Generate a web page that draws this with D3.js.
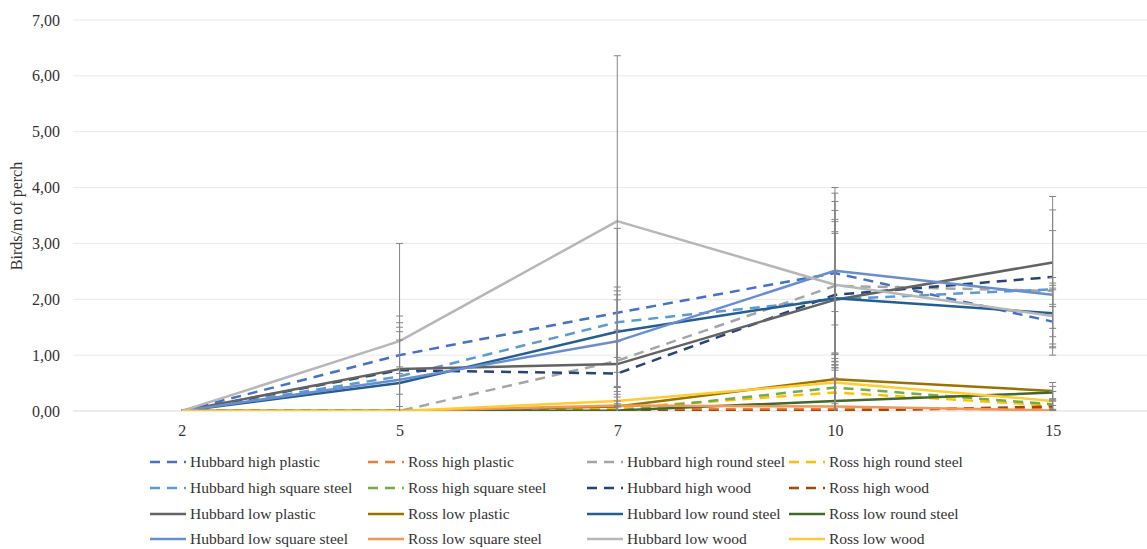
<!DOCTYPE html>
<html>
<head>
<meta charset="utf-8">
<script src="https://cdn.jsdelivr.net/npm/d3@7/dist/d3.min.js"></script>
<style>
  html, body { margin: 0; padding: 0; background: #fff; }
  svg { display: block; }
  svg text { fill: #333; }
</style>
</head>
<body>
<svg id="chart" width="1147" height="549"></svg>
<script>
// ---- data ----
const categories = ["2", "5", "7", "10", "15"];
const yTicks = [0, 1, 2, 3, 4, 5, 6, 7];
const yTitle = "Birds/m of perch";

const seriesNames = [
  "Hubbard high plastic", "Ross high plastic", "Hubbard high round steel", "Ross high round steel",
  "Hubbard high square steel", "Ross high square steel", "Hubbard high wood", "Ross high wood",
  "Hubbard low plastic", "Ross low plastic", "Hubbard low round steel", "Ross low round steel",
  "Hubbard low square steel", "Ross low square steel", "Hubbard low wood", "Ross low wood"
];
const seriesDashed = [true, true, true, true, true, true, true, true,
  false, false, false, false, false, false, false, false];
const seriesColors = [
  "#4472C4", "#ED7D31", "#A5A5A5", "#FFC000",
  "#5B9BD5", "#70AD47", "#264478", "#9E480E",
  "#636363", "#997300", "#255E91", "#43682B",
  "#698ED0", "#F1975A", "#B7B7B7", "#FFCD33"
];

const hubbardHighPlastic      = [0, 1.00, 1.76, 2.47, 1.60];
const rossHighPlastic         = [0, 0, 0.03, 0.03, 0.04];
const hubbardHighRoundSteel   = [0, 0, 0.90, 2.24, 2.15];
const rossHighRoundSteel      = [0, 0, 0.05, 0.33, 0.10];
const hubbardHighSquareSteel  = [0, 0.62, 1.59, 2.00, 2.18];
const rossHighSquareSteel     = [0, 0, 0, 0.42, 0.12];
const hubbardHighWood         = [0, 0.73, 0.67, 2.08, 2.40];
const rossHighWood            = [0, 0, 0, 0, 0.08];
const hubbardLowPlastic       = [0, 0.75, 0.84, 1.99, 2.66];
const rossLowPlastic          = [0, 0, 0.08, 0.57, 0.36];
const hubbardLowRoundSteel    = [0, 0.50, 1.42, 2.02, 1.75];
const rossLowRoundSteel       = [0, 0, 0.01, 0.18, 0.33];
const hubbardLowSquareSteel   = [0, 0.56, 1.25, 2.51, 2.08];
const rossLowSquareSteel      = [0, 0, 0.10, 0.08, 0.01];
const hubbardLowWood          = [0, 1.25, 3.40, 2.26, 1.70];
const rossLowWood             = [0, 0, 0.18, 0.51, 0.18];

// standard deviations (error bars)
const sdHubbardHighPlastic     = [0, 0.70, 1.51, 1.43, 0.60];
const sdRossHighPlastic        = [0, 0, 0.05, 0.10, 0.06];
const sdHubbardHighRoundSteel  = [0, 0, 0.55, 1.35, 0.24];
const sdRossHighRoundSteel     = [0, 0, 0.08, 0.61, 0.08];
const sdHubbardHighSquareSteel = [0, 0.65, 0.63, 1.18, 1.05];
const sdRossHighSquareSteel    = [0, 0, 0, 0.59, 0.23];
const sdHubbardHighWood        = [0, 0.06, 0.57, 1.35, 1.20];
const sdRossHighWood           = [0, 0, 0, 0, 0.10];
const sdHubbardLowPlastic      = [0, 0.67, 1.15, 1.40, 1.18];
const sdRossLowPlastic         = [0, 0, 0.10, 1.21, 0.15];
const sdHubbardLowRoundSteel   = [0, 1.00, 0.73, 1.19, 0.42];
const sdRossLowRoundSteel      = [0, 0, 0.02, 0.70, 0.11];
const sdHubbardLowSquareSteel  = [0, 1.02, 0.83, 1.49, 0.21];
const sdRossLowSquareSteel     = [0, 0, 0.20, 0.70, 0.02];
const sdHubbardLowWood         = [0, 1.75, 2.96, 1.49, 0.55];
const sdRossLowWood            = [0, 0, 0.24, 1.03, 0.17];

const seriesValues = [
  hubbardHighPlastic, rossHighPlastic, hubbardHighRoundSteel, rossHighRoundSteel,
  hubbardHighSquareSteel, rossHighSquareSteel, hubbardHighWood, rossHighWood,
  hubbardLowPlastic, rossLowPlastic, hubbardLowRoundSteel, rossLowRoundSteel,
  hubbardLowSquareSteel, rossLowSquareSteel, hubbardLowWood, rossLowWood
];
const seriesSD = [
  sdHubbardHighPlastic, sdRossHighPlastic, sdHubbardHighRoundSteel, sdRossHighRoundSteel,
  sdHubbardHighSquareSteel, sdRossHighSquareSteel, sdHubbardHighWood, sdRossHighWood,
  sdHubbardLowPlastic, sdRossLowPlastic, sdHubbardLowRoundSteel, sdRossLowRoundSteel,
  sdHubbardLowSquareSteel, sdRossLowSquareSteel, sdHubbardLowWood, sdRossLowWood
];

// ---- layout ----
const FONT = "'Liberation Serif', 'Times New Roman', Times, serif";
const svg = d3.select("#chart");
const plot = { left: 73, right: 1161.5, top: 20, bottom: 411 };

const x = d3.scalePoint().domain(categories).range([plot.left, plot.right]).padding(0.5);
const y = d3.scaleLinear().domain([0, 7]).range([plot.bottom, plot.top]);

const locale = d3.formatLocale({ decimal: ",", thousands: ".", grouping: [3], currency: ["", ""] });
const fmt = locale.format(".2f");

svg.append("defs").append("clipPath").attr("id", "plotclip")
  .append("rect").attr("x", plot.left).attr("y", plot.top)
  .attr("width", plot.right - plot.left).attr("height", plot.bottom - plot.top);

// gridlines
svg.append("g").selectAll("line").data(yTicks).join("line")
  .attr("x1", plot.left).attr("x2", 1147)
  .attr("y1", d => y(d)).attr("y2", d => y(d))
  .attr("stroke", d => d === 0 ? "#D9D9D9" : "#E9E9E9").attr("stroke-width", 1);

// y axis labels
const yAxis = d3.axisLeft(y).tickValues(yTicks).tickFormat(fmt).tickSize(0).tickPadding(0);
const yg = svg.append("g").attr("transform", `translate(${60},0)`).call(yAxis)
  .attr("font-family", FONT).attr("font-size", 16);
yg.select(".domain").remove();
yg.selectAll("text").attr("fill", "#333");

// x axis labels
const xAxis = d3.axisBottom(x).tickSize(0).tickPadding(0);
const xg = svg.append("g").attr("transform", `translate(0,${425})`).call(xAxis)
  .attr("font-family", FONT).attr("font-size", 16);
xg.select(".domain").remove();
xg.selectAll("text").attr("fill", "#333");

// y title
svg.append("text")
  .attr("transform", `translate(22,${216}) rotate(-90)`)
  .attr("text-anchor", "middle")
  .attr("font-family", FONT)
  .attr("font-size", 16)
  .text(yTitle);

// lines
const line = d3.line().x((d, i) => x(categories[i])).y(d => y(d));
const linesG = svg.append("g").attr("clip-path", "url(#plotclip)");
seriesValues.forEach((vals, s) => {
  linesG.append("path")
    .datum(vals)
    .attr("d", line)
    .attr("fill", "none")
    .attr("stroke", seriesColors[s])
    .attr("stroke-width", 2.5)
    .attr("stroke-dasharray", seriesDashed[s] ? "10,7" : null)
    .attr("stroke-linejoin", "round");
});

// error bars
const errG = svg.append("g").attr("clip-path", "url(#plotclip)");
seriesValues.forEach((vals, s) => {
  vals.forEach((v, i) => {
    const sd = seriesSD[s][i];
    if (!sd) return;
    const cx = x(categories[i]);
    const y1 = y(v + sd), y2 = y(v - sd);
    errG.append("line").attr("x1", cx).attr("x2", cx).attr("y1", y1).attr("y2", y2)
      .attr("stroke", "#858585").attr("stroke-width", 1);
    [y1, y2].forEach(yy => {
      errG.append("line").attr("x1", cx - 3.5).attr("x2", cx + 3.5).attr("y1", yy).attr("y2", yy)
        .attr("stroke", "#858585").attr("stroke-width", 1);
    });
  });
});

// legend
const legCols = [150, 368, 587, 789];
const legRows = [462, 488, 514, 539];
const legendG = svg.append("g").attr("font-family", FONT).attr("font-size", 15.5);
seriesNames.forEach((name, s) => {
  const cx = legCols[s % 4], cy = legRows[Math.floor(s / 4)];
  legendG.append("line")
    .attr("x1", cx).attr("x2", cx + 36).attr("y1", cy).attr("y2", cy)
    .attr("stroke", seriesColors[s]).attr("stroke-width", 2.5)
    .attr("stroke-dasharray", seriesDashed[s] ? "10,7" : null);
  legendG.append("text")
    .attr("x", cx + 40).attr("y", cy).attr("dy", "0.35em")
    .text(name);
});
</script>
</body>
</html>
